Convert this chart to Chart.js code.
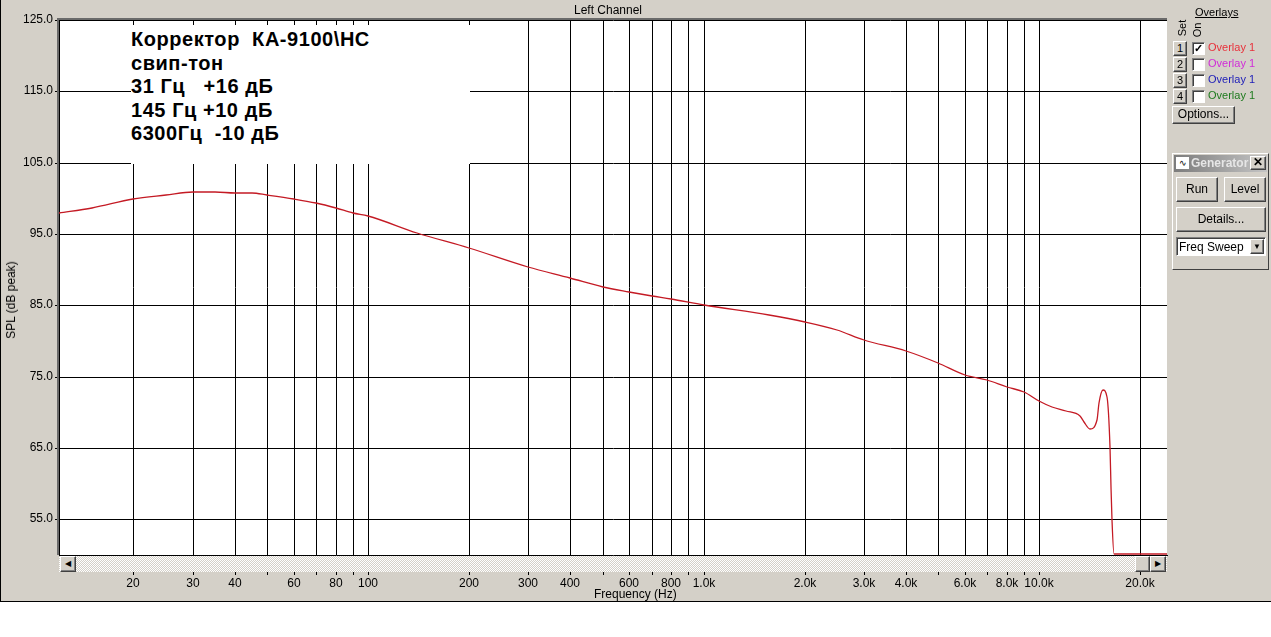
<!DOCTYPE html>
<html><head><meta charset="utf-8">
<script src="https://cdn.jsdelivr.net/npm/chart.js@4/dist/chart.umd.min.js"></script>
<style>
html,body{margin:0;padding:0;background:#fff;}
body{width:1271px;height:637px;position:relative;overflow:hidden;font-family:"Liberation Sans",Arial,sans-serif;}
#frame{position:absolute;left:0;top:0;width:1271px;height:602px;box-sizing:border-box;background:#D4D0C8;border-left:1px solid #000;border-bottom:1px solid #000;}
#c{position:absolute;left:0;top:0;}
.abs{position:absolute;}
.txt{font-size:12px;color:#000;white-space:nowrap;}
.btn{position:absolute;box-sizing:border-box;background:#D4D0C8;border:1px solid;border-color:#fff #404040 #404040 #fff;box-shadow:inset -1px -1px #808080;font-size:12px;text-align:center;color:#000;}
.chk{position:absolute;box-sizing:border-box;width:13px;height:13px;background:#fff;border:1px solid;border-color:#808080 #fff #fff #808080;box-shadow:inset 1px 1px #404040;font-size:11px;line-height:11px;text-align:center;font-weight:bold;}
#note{position:absolute;left:131px;top:25px;width:339px;height:139px;background:#fff;box-sizing:border-box;padding-top:3px;font-weight:bold;font-size:20px;letter-spacing:0.55px;line-height:23.5px;white-space:pre;color:#000;}
</style></head>
<body>
<div id="frame"></div>
<canvas id="c" width="1271" height="637"></canvas>
<div class="abs" style="left:57px;top:18px;width:1110px;height:537px;box-sizing:border-box;border-top:2px solid #6a6a6a;border-left:2px solid #6a6a6a;pointer-events:none;"></div>
<div class="abs txt" style="left:0;top:3px;width:1216px;text-align:center;">Left Channel</div>
<div class="abs txt" style="left:594px;top:587px;">Frequency (Hz)</div>
<div class="abs txt" style="left:11px;top:300px;transform:translate(-50%,-50%) rotate(-90deg);">SPL (dB peak)</div>
<div id="note">Корректор  КА-9100\НС
свип-тон
31 Гц   +16 дБ
145 Гц +10 дБ
6300Гц  -10 дБ</div>
<!-- scrollbar -->
<div class="abs" style="left:59px;top:556px;width:1108px;height:16px;background:repeating-conic-gradient(#fff 0 25%, #D4D0C8 0 50%) 0 0/2px 2px;"></div>
<div class="btn" style="left:60px;top:556px;width:16px;height:16px;font-size:8px;line-height:14px;">&#9664;</div>
<div class="btn" style="left:1135px;top:556px;width:15px;height:16px;"></div>
<div class="btn" style="left:1150px;top:556px;width:16px;height:16px;font-size:8px;line-height:14px;">&#9654;</div>
<!-- overlays panel -->
<div class="abs txt" style="left:1195px;top:6px;font-size:11px;text-decoration:underline;">Overlays</div>
<div class="abs txt" style="left:1182px;top:28px;font-size:11px;transform:translate(-50%,-50%) rotate(-90deg);">Set</div>
<div class="abs txt" style="left:1197px;top:30px;font-size:11px;transform:translate(-50%,-50%) rotate(-90deg);">On</div>
<div class="btn" style="left:1173px;top:41px;width:14px;height:15px;font-size:11px;line-height:13px;">1</div>
<div class="btn" style="left:1173px;top:57px;width:14px;height:15px;font-size:11px;line-height:13px;">2</div>
<div class="btn" style="left:1173px;top:73px;width:14px;height:15px;font-size:11px;line-height:13px;">3</div>
<div class="btn" style="left:1173px;top:89px;width:14px;height:15px;font-size:11px;line-height:13px;">4</div>
<div class="chk" style="left:1192px;top:42px;">&#10003;</div>
<div class="chk" style="left:1192px;top:58px;"></div>
<div class="chk" style="left:1192px;top:74px;"></div>
<div class="chk" style="left:1192px;top:90px;"></div>
<div class="abs txt" style="left:1208px;top:41px;font-size:11px;color:#e8303a;">Overlay 1</div>
<div class="abs txt" style="left:1208px;top:57px;font-size:11px;color:#d02cd8;">Overlay 1</div>
<div class="abs txt" style="left:1208px;top:73px;font-size:11px;color:#1c1cb8;">Overlay 1</div>
<div class="abs txt" style="left:1208px;top:89px;font-size:11px;color:#1e7a1e;">Overlay 1</div>
<div class="btn" style="left:1172px;top:106px;width:63px;height:18px;line-height:15px;">Options...</div>
<!-- generator window -->
<div class="abs" style="left:1172px;top:153px;width:97px;height:117px;box-sizing:border-box;background:#D4D0C8;border:1px solid;border-color:#fff #404040 #404040 #fff;"></div>
<div class="abs" style="left:1174px;top:155px;width:93px;height:17px;background:linear-gradient(to right,#7c7c7c,#c4c4c4);overflow:hidden;">
  <div class="abs" style="left:2px;top:2px;width:13px;height:12px;background:#fff;font-size:9px;line-height:12px;text-align:center;">&#8767;</div>
  <div class="abs txt" style="left:17px;top:1px;font-weight:bold;color:#e6e6e6;">Generator</div>
</div>
<div class="btn" style="left:1250px;top:156px;width:16px;height:14px;font-size:12px;line-height:11px;font-weight:bold;">&#10005;</div>
<div class="btn" style="left:1176px;top:177px;width:42px;height:25px;line-height:22px;">Run</div>
<div class="btn" style="left:1224px;top:177px;width:42px;height:25px;line-height:22px;">Level</div>
<div class="btn" style="left:1176px;top:207px;width:90px;height:25px;line-height:22px;">Details...</div>
<div class="abs" style="left:1176px;top:237px;width:90px;height:19px;box-sizing:border-box;background:#fff;border:1px solid;border-color:#808080 #fff #fff #808080;box-shadow:inset 1px 1px #404040;">
  <div class="abs txt" style="left:2px;top:2px;">Freq Sweep</div>
</div>
<div class="btn" style="left:1250px;top:239px;width:14px;height:15px;font-size:8px;line-height:13px;">&#9660;</div>
<script>
// ---- data ----
const freqHz = [12, 15, 20, 25, 30, 35, 40, 45, 50, 60, 70, 80, 90, 100, 140, 200, 300, 400, 500, 600, 700, 800, 1000, 1570, 2000, 2500, 3000, 4000, 5000, 6000, 7000, 8000, 9000, 10000, 10900, 12000, 13200, 13600, 14200, 14800, 15100, 15500, 15900, 16200, 16400, 16500, 16700, 18000, 24000];
const splDb  = [97.9, 98.7, 99.9, 100.5, 100.85, 100.9, 100.8, 100.7, 100.5, 99.9, 99.4, 98.7, 98.0, 97.5, 95.1, 93.1, 90.4, 88.8, 87.6, 86.9, 86.35, 85.9, 85.1, 83.6, 82.6, 81.5, 80.2, 78.6, 76.9, 75.3, 74.5, 73.5, 72.8, 71.6, 70.8, 70.15, 69.5, 68.7, 67.6, 68.9, 71.3, 73.2, 72.2, 65.2, 59.6, 54.9, 50.2, 50.2, 50.2];
const xGridFreqs = [20,30,40,50,60,70,80,90,100,200,300,400,500,600,700,800,900,1000,2000,3000,4000,5000,6000,7000,8000,9000,10000,20000];
const xTickLabels = ['20','30','40','','60','','80','','100','200','300','400','','600','','800','','1.0k','2.0k','3.0k','4.0k','','6.0k','','8.0k','','10.0k','20.0k'];
const yTickValues = [55,65,75,85,95,105,115,125];
const yTickLabels = ['55.0','65.0','75.0','85.0','95.0','105.0','115.0','125.0'];

const whiteArea = {
  id:'whiteArea',
  beforeDraw(chart){
    const a = chart.chartArea, ctx = chart.ctx;
    ctx.save(); ctx.fillStyle = '#fff';
    ctx.fillRect(a.left, a.top, a.right - a.left, a.bottom - a.top);
    ctx.restore();
  }
};

new Chart(document.getElementById('c'), {
  type: 'line',
  data: { datasets: [{
    data: freqHz.map((f, i) => ({x: f, y: splDb[i]})),
    borderColor: '#c41a24', borderWidth: 1.3, pointRadius: 0,
    cubicInterpolationMode: 'monotone', fill: false
  }]},
  options: {
    responsive: false, animation: false,
    layout: { padding: { left: 0, top: 20, right: 104, bottom: 36 } },
    plugins: { legend: { display: false }, tooltip: { enabled: false } },
    scales: {
      x: {
        type: 'logarithmic', min: 12, max: 24000, alignToPixels: true,
        afterFit(s){ s.height = 46; },
        afterBuildTicks(s){ s.ticks = xGridFreqs.map(v => ({value: v})); },
        ticks: {
          autoSkip: false, maxRotation: 0, padding: 1, color: '#000',
          font: { family: 'Liberation Sans', size: 12 },
          callback(v){ const i = xGridFreqs.indexOf(v); return i >= 0 ? xTickLabels[i] : ''; }
        },
        grid: { color: '#000', lineWidth: 1, tickLength: 20, tickColor: '#000' },
        border: { display: true, color: '#000', width: 1 }
      },
      y: {
        type: 'linear', min: 50, max: 125, alignToPixels: true,
        afterFit(s){ s.width = 59; },
        afterBuildTicks(s){ s.ticks = yTickValues.map(v => ({value: v})); },
        ticks: {
          autoSkip: false, padding: 2, color: '#000',
          font: { family: 'Liberation Sans', size: 12 },
          callback(v){ const i = yTickValues.indexOf(v); return i >= 0 ? yTickLabels[i] : ''; }
        },
        grid: { color: '#000', lineWidth: 1, tickLength: 4, tickColor: '#000' },
        border: { display: true, color: '#000', width: 1 }
      }
    }
  },
  plugins: [whiteArea]
});
</script>
</body></html>
